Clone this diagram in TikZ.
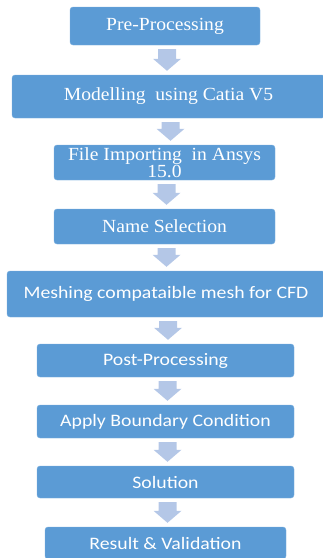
\documentclass[tikz,border=0pt]{standalone}
\usepackage{fontspec}
\setmainfont{Liberation Serif}
\newfontfamily\boxserif[FakeStretch=1.06]{Liberation Serif}
\newfontfamily\boxsans[FakeStretch=1.13]{Carlito}
\usetikzlibrary{calc}

\definecolor{boxblue}{HTML}{5B9BD5}
\definecolor{arrowblue}{HTML}{B4C7E7}

\tikzset{
  stage/.style={draw=boxblue!80!white, fill=boxblue, rounded corners=3pt,
    text=white, inner sep=0pt, align=center},
  serifstage/.style={stage, font=\boxserif\fontsize{18.5}{15.5}\selectfont},
  sansstage/.style={stage, font=\boxsans\fontsize{17.5}{18}\selectfont},
  blockarrow/.style={fill=arrowblue, draw=none}
}

% fat down arrow between two stages
\newcommand{\stagearrow}[2]{%
  \path[blockarrow] let \p1 = ($(#1.south)+(2pt,-4pt)$), \p2 = ($(#2.north)+(2pt,4pt)$) in
    (\x1-9pt,\y1) -- (\x1+9pt,\y1) -- (\x1+9pt,\y2+12pt) -- (\x1+14pt,\y2+12pt)
    -- (\x1,\y2) -- (\x1-14pt,\y2+12pt) -- (\x1-9pt,\y2+12pt) -- cycle;}

\begin{document}
\begin{tikzpicture}[x=1pt,y=-1pt]
    \useasboundingbox (0,0) rectangle (323,558);

    % Stages
    \node[serifstage, minimum width=190, minimum height=38] (pre) at (165,26) {Pre-Processing};
    \node[serifstage, minimum width=313, minimum height=43] (model) at (168.5,96.5) {Modelling\ \ using Catia V5};
    \node[serifstage, minimum width=221, minimum height=35] (import) at (164.5,162.5) {File Importing\ \ in Ansys\\15.0};
    \node[serifstage, minimum width=221, minimum height=35] (names) at (164.5,226.5) {Name Selection};
    \node[sansstage, minimum width=318, minimum height=46] (mesh) at (166,294) {Meshing compataible mesh for CFD};
    \node[sansstage, minimum width=257, minimum height=33] (post) at (165.5,360.5) {Post-Processing};
    \node[sansstage, minimum width=257, minimum height=33] (bc) at (165.5,421.5) {Apply Boundary Condition};
    \node[sansstage, minimum width=257, minimum height=32] (solve) at (165.5,482) {Solution};
    \node[sansstage, minimum width=241, minimum height=32] (result) at (165.5,543) {Result \& Validation};

    % Arrows
    \stagearrow{pre}{model}
    \stagearrow{model}{import}
    \stagearrow{import}{names}
    \stagearrow{names}{mesh}
    \stagearrow{mesh}{post}
    \stagearrow{post}{bc}
    \stagearrow{bc}{solve}
    \stagearrow{solve}{result}
\end{tikzpicture}
\end{document}
